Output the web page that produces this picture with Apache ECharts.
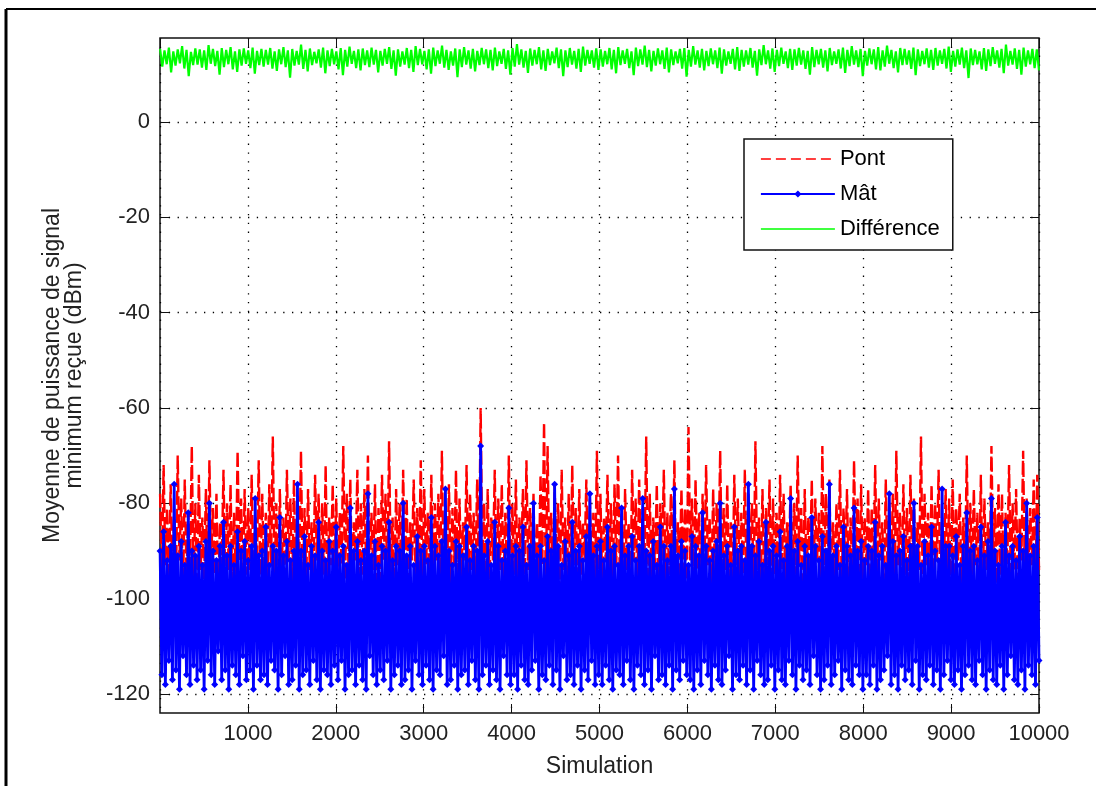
<!DOCTYPE html>
<html>
<head>
    <meta charset="utf-8">
    <script src="https://cdn.jsdelivr.net/npm/echarts@6/dist/echarts.min.js"></script>
</head>
<body style="margin:0;background:#fff">
    <div id="main" style="width:1096px;height:786px"></div>
    <script type="text/javascript">
        // valeurs : enveloppes haute / basse du signal dense (10000 simulations)
        var xTicks = [1000, 2000, 3000, 4000, 5000, 6000, 7000, 8000, 9000, 10000];
        var yTicks = [-120, -100, -80, -60, -40, -20, 0];

        // Pont (rouge)
        var pontHaut = [
            -78,-72,-81,-76,-83,-70,-79,-75,-82,-68,-80,-74,-83,-77,-71,-81,-78,-84,-73,-80,-76,-82,-69,-79,-77,
            -81,-74,-83,-71,-78,-82,-76,-66,-80,-77,-83,-73,-79,-75,-82,-69,-81,-77,-84,-74,-78,-80,-72,-83,-76,
            -79,-82,-68,-78,-75,-84,-73,-80,-77,-70,-82,-76,-81,-74,-78,-67,-83,-77,-80,-73,-79,-84,-75,-81,-71,
            -77,-82,-74,-80,-78,-69,-83,-76,-81,-73,-79,-84,-72,-78,-82,-75,-60,-80,-77,-83,-73,-79,-76,-82,-70,
            -80,-75,-83,-77,-71,-81,-78,-84,-74,-63,-68,-82,-76,-80,-73,-83,-78,-72,-81,-77,-84,-75,-79,-82,-69,
            -78,-83,-74,-80,-76,-70,-82,-77,-84,-73,-79,-75,-81,-66,-78,-83,-76,-80,-73,-82,-78,-71,-84,-77,-81,
            -64,-79,-75,-82,-78,-72,-83,-77,-80,-69,-81,-76,-84,-74,-79,-82,-73,-78,-80,-67,-83,-77,-81,-75,-79,
            -82,-74,-78,-84,-76,-80,-70,-81,-77,-83,-75,-79,-82,-68,-78,-75,-84,-80,-73,-81,-77,-83,-71,-79,-76,
            -83,-77,-81,-72,-79,-84,-75,-80,-78,-69,-82,-76,-81,-74,-79,-84,-66,-78,-82,-76,-80,-73,-83,-77,-79,
            -75,-81,-78,-83,-70,-80,-77,-82,-74,-79,-84,-68,-81,-76,-78,-82,-72,-80,-77,-83,-69,-79,-81,-75,-74
        ];
        var pontBas = [
            -96,-93,-98,-94,-97,-92,-99,-95,-93,-97,-100,-94,-96,-98,-92,-95,-99,-93,-97,-94,-98,-96,-92,-99,-95,
            -94,-97,-92,-99,-95,-98,-93,-96,-100,-94,-97,-92,-98,-95,-93,-99,-96,-94,-97,-92,-98,-95,-100,-93,-96,
            -98,-93,-96,-94,-99,-92,-97,-95,-93,-98,-94,-100,-96,-92,-97,-95,-99,-93,-96,-94,-98,-92,-97,-95,-99,
            -93,-96,-98,-92,-95,-99,-94,-97,-93,-100,-96,-92,-98,-94,-97,-95,-93,-99,-96,-92,-98,-94,-97,-95,-100,
            -95,-98,-93,-97,-94,-92,-99,-96,-93,-98,-95,-97,-92,-100,-94,-96,-98,-93,-97,-95,-92,-99,-94,-96,-98,
            -97,-92,-95,-99,-93,-96,-98,-94,-100,-92,-97,-95,-93,-99,-96,-94,-98,-92,-97,-95,-93,-100,-96,-94,-98,
            -92,-97,-94,-98,-96,-93,-99,-95,-92,-97,-94,-98,-100,-93,-96,-95,-99,-92,-97,-94,-98,-96,-93,-99,-95,
            -99,-94,-97,-92,-98,-95,-93,-100,-96,-94,-97,-92,-99,-95,-93,-98,-96,-94,-97,-92,-100,-95,-93,-98,-96,
            -93,-98,-95,-97,-92,-99,-94,-96,-98,-93,-97,-95,-100,-92,-96,-94,-99,-93,-97,-95,-92,-98,-94,-96,-99,
            -96,-92,-99,-94,-97,-95,-93,-98,-100,-94,-96,-92,-97,-95,-99,-93,-96,-94,-98,-92,-97,-95,-93,-99,-94
        ];

        // Mât (bleu)
        var matHaut = [
            -90,-86,-92,-89,-76,-91,-88,-93,-82,-90,-91,-89,-93,-88,-80,-90,-92,-89,-84,-91,-89,-93,-86,-90,-88,
            -92,-89,-79,-91,-90,-85,-93,-89,-90,-83,-91,-88,-92,-90,-76,-90,-87,-93,-89,-91,-84,-90,-92,-88,-90,
            -85,-91,-89,-93,-81,-90,-88,-92,-90,-78,-91,-88,-93,-89,-90,-84,-92,-89,-90,-80,-91,-89,-93,-87,-90,
            -89,-92,-83,-89,-91,-88,-77,-90,-93,-88,-89,-91,-85,-92,-89,-90,-68,-91,-88,-93,-84,-89,-92,-90,-81,
            -91,-89,-90,-85,-93,-89,-80,-91,-89,-92,-87,-90,-76,-89,-93,-88,-91,-84,-90,-89,-92,-87,-78,-91,-89,
            -88,-92,-85,-90,-89,-93,-81,-91,-89,-87,-92,-89,-79,-90,-91,-88,-93,-85,-89,-92,-89,-77,-91,-88,-90,
            -93,-87,-89,-91,-82,-89,-92,-90,-88,-80,-91,-89,-93,-85,-90,-89,-92,-76,-89,-91,-88,-93,-84,-90,-89,
            -91,-86,-92,-89,-79,-90,-88,-93,-89,-91,-83,-89,-92,-87,-90,-76,-91,-89,-93,-85,-89,-91,-81,-90,-88,
            -92,-89,-90,-84,-91,-89,-93,-78,-88,-91,-90,-87,-92,-89,-80,-89,-93,-88,-91,-85,-90,-92,-77,-89,-89,
            -91,-87,-93,-89,-82,-90,-89,-92,-85,-91,-88,-79,-90,-93,-89,-84,-91,-89,-92,-87,-90,-80,-91,-89,-83
        ];
        var matBas = [
            -116,-118,-113,-117,-115,-119,-112,-116,-118,-114,-117,-115,-119,-113,-116,-118,-111,-117,-115,-119,-114,-116,-118,-112,-117,
            -115,-119,-114,-117,-116,-118,-113,-115,-119,-116,-112,-118,-117,-114,-119,-116,-115,-118,-113,-117,-119,-115,-116,-118,-114,
            -117,-113,-119,-116,-115,-118,-114,-117,-119,-112,-116,-118,-115,-117,-113,-119,-116,-114,-118,-117,-115,-119,-113,-116,-118,
            -114,-117,-119,-115,-116,-112,-118,-117,-114,-119,-116,-115,-118,-113,-117,-119,-116,-114,-118,-115,-117,-119,-112,-116,-118,
            -116,-119,-114,-117,-118,-115,-113,-119,-116,-117,-114,-118,-115,-119,-112,-117,-116,-118,-114,-119,-115,-117,-113,-118,-116,
            -118,-114,-117,-119,-115,-116,-118,-113,-117,-119,-114,-116,-118,-115,-119,-112,-117,-116,-118,-114,-119,-115,-117,-113,-116,
            -117,-119,-115,-118,-113,-116,-119,-114,-117,-118,-115,-112,-119,-116,-117,-114,-118,-115,-119,-113,-116,-118,-117,-114,-119,
            -115,-117,-118,-113,-116,-119,-114,-117,-115,-118,-112,-116,-119,-117,-114,-118,-116,-113,-119,-115,-117,-118,-114,-116,-119,
            -116,-118,-114,-119,-117,-115,-112,-118,-116,-119,-114,-117,-115,-118,-113,-119,-116,-117,-114,-118,-115,-119,-116,-113,-117,
            -118,-115,-119,-116,-114,-117,-118,-113,-116,-119,-115,-117,-118,-114,-119,-116,-112,-117,-118,-115,-119,-114,-116,-118,-113
        ];

        // Différence (vert)
        var diffHaut = [
            15.3,15.0,15.6,14.8,15.2,15.9,15.1,14.7,15.4,15.2,15.0,16.1,15.3,14.9,15.5,15.1,15.7,14.8,15.2,15.4,15.0,15.6,14.9,15.3,15.1,
            15.5,14.8,15.2,15.7,15.0,15.3,14.9,16.2,15.1,15.4,14.7,15.2,15.6,15.0,15.3,14.8,15.5,15.1,15.8,14.9,15.2,15.4,15.0,15.6,15.1,
            14.9,15.3,15.7,15.0,15.2,14.8,15.5,15.1,15.9,15.3,14.9,15.2,15.6,15.0,16.0,15.1,14.8,15.4,15.2,15.7,15.0,15.3,14.9,15.5,15.2,
            15.1,15.6,14.8,15.3,15.0,15.5,16.3,15.2,14.9,15.4,15.1,15.7,15.0,15.3,14.8,15.6,15.2,15.0,15.5,14.9,15.3,15.8,15.1,15.0,15.4,
            15.2,14.9,15.5,15.1,15.7,15.0,15.3,14.8,15.6,15.2,16.0,15.1,14.9,15.4,15.0,15.6,15.2,14.8,15.3,15.5,15.1,15.9,15.0,15.3,14.9,
            15.4,15.0,15.6,15.2,14.8,15.3,15.7,15.1,15.0,15.5,14.9,15.2,16.1,15.0,15.4,15.1,15.6,14.8,15.3,15.2,15.5,15.0,14.9,15.7,15.1,
            15.3,15.0,15.5,14.8,15.2,15.6,15.1,15.9,15.0,15.3,14.9,15.4,15.2,15.7,15.0,16.0,15.1,14.8,15.5,15.3,15.0,15.6,15.2,14.9,15.4,
            15.1,15.5,15.0,15.3,15.8,14.9,15.2,15.6,15.0,15.4,15.1,14.8,15.5,15.2,15.7,15.0,15.3,16.2,14.9,15.4,15.1,15.6,15.0,15.3,15.2
        ];
        var diffBas = [
            11.6,12.1,10.4,11.8,12.3,11.2,9.6,11.9,12.0,11.4,10.9,12.2,11.7,9.9,11.5,12.1,11.0,10.5,11.8,12.2,11.3,10.1,11.9,11.6,12.0,
            11.2,10.7,12.1,11.5,9.3,11.8,12.0,11.1,10.6,11.9,12.3,11.4,10.2,11.7,12.1,11.0,9.8,11.6,12.2,11.3,10.8,11.9,11.5,12.0,10.4,
            11.8,12.2,11.1,9.7,11.6,12.0,11.3,10.5,11.9,12.1,11.0,10.1,11.7,12.2,11.4,10.9,11.8,9.4,11.5,12.0,11.2,10.6,11.9,12.1,11.3,
            10.8,11.7,12.2,11.1,9.9,11.6,12.0,11.4,10.3,11.8,12.1,11.0,10.7,11.9,12.3,11.3,9.6,11.5,12.0,11.2,10.5,11.8,12.2,11.4,10.9,
            11.6,12.1,11.0,10.2,11.9,12.2,11.3,9.8,11.7,12.0,11.5,10.6,11.8,12.1,11.1,10.4,11.9,12.3,11.2,9.5,11.6,12.0,11.4,10.8,11.7,
            12.1,11.3,10.1,11.8,12.2,11.0,10.7,11.6,12.0,11.4,9.7,11.9,12.1,11.2,10.5,11.7,12.2,11.3,10.9,11.8,12.0,11.1,9.9,11.5,12.1,
            11.4,10.6,11.9,12.2,11.2,10.3,11.7,12.0,11.5,9.6,11.8,12.1,11.0,10.8,11.6,12.2,11.3,10.4,11.9,12.0,11.1,9.8,11.7,12.1,11.4,
            10.9,11.8,12.2,11.2,10.5,11.6,12.0,11.3,9.2,11.9,12.1,11.0,10.7,11.7,12.2,11.4,10.2,11.8,12.0,11.1,9.9,11.6,12.1,11.3,10.8
        ];

        // alterne haut / bas et place chaque echantillon sur l'axe des simulations
        function signal(haut, bas) {
            var pts = [];
            for (var i = 0; i < haut.length; i++) {
                pts.push(haut[i]);
                pts.push(bas[i]);
            }
            var step = 9999 / (pts.length - 1);
            return pts.map(function (v, i) { return [1 + i * step, v]; });
        }

        var font = "'Liberation Sans', Arial, sans-serif";
        var myChart = echarts.init(document.getElementById('main'));

        var tickStyle = { color: '#111', width: 1 };
        var gridStyle = { color: '#000', type: [1.3, 7.5], width: 1.3 };

        var option = {
            animation: false,
            backgroundColor: '#fff',
            textStyle: { fontFamily: font },
            graphic: [
                { type: 'line', shape: { x1: 6, y1: 9, x2: 1096, y2: 9 }, style: { stroke: '#000', lineWidth: 2 } },
                { type: 'line', shape: { x1: 6, y1: 9, x2: 6, y2: 786 }, style: { stroke: '#000', lineWidth: 3 } }
            ],
            grid: {
                left: 160, top: 38, right: 57, bottom: 73,
                show: true, borderColor: '#111', borderWidth: 1.5, backgroundColor: '#fff'
            },
            legend: {
                orient: 'vertical',
                left: 744, top: 139,
                padding: [8, 13, 9, 16],
                itemWidth: 74, itemHeight: 9, itemGap: 11,
                backgroundColor: '#fff',
                borderColor: '#111', borderWidth: 1.5, borderRadius: 0,
                textStyle: { fontFamily: font, fontSize: 22, color: '#000', lineHeight: 24 },
                data: [
                    { name: 'Pont', itemStyle: { opacity: 0 }, lineStyle: { width: 1.5, type: [10, 5] } },
                    { name: 'Mât', lineStyle: { width: 1.8 } },
                    { name: 'Différence', itemStyle: { opacity: 0 }, lineStyle: { width: 1.5 } }
                ]
            },
            xAxis: [{
                type: 'value', min: 0, max: 10000, interval: 1000,
                name: 'Simulation', nameLocation: 'middle', nameGap: 42,
                nameTextStyle: { fontFamily: font, fontSize: 23, color: '#222' },
                axisLine: { show: false, onZero: false },
                axisTick: { inside: true, length: 9, lineStyle: tickStyle },
                axisLabel: {
                    showMinLabel: false, margin: 10, fontSize: 22, color: '#222', fontFamily: font,
                    formatter: function (v) { return String(v); }
                },
                splitLine: { show: true, lineStyle: gridStyle }
            }, {
                type: 'value', position: 'top', min: 0, max: 10000, interval: 1000,
                axisLine: { show: false, onZero: false },
                axisTick: { inside: true, length: 9, lineStyle: tickStyle },
                axisLabel: { show: false },
                splitLine: { show: false }
            }],
            yAxis: [{
                type: 'value', min: -124, max: 17.6,
                name: 'Moyenne de puissance de signal\nminimum reçue (dBm)',
                nameLocation: 'middle', nameGap: 74,
                nameTextStyle: { fontFamily: font, fontSize: 23, color: '#222', lineHeight: 22 },
                axisLine: { show: false, onZero: false },
                axisTick: { inside: true, length: 9, customValues: yTicks, lineStyle: tickStyle },
                axisLabel: { customValues: yTicks, margin: 10, fontSize: 22, color: '#222', fontFamily: font },
                splitLine: { show: true, lineStyle: gridStyle }
            }, {
                type: 'value', position: 'right', min: -124, max: 17.6,
                axisLine: { show: false, onZero: false },
                axisTick: { inside: true, length: 9, customValues: yTicks, lineStyle: tickStyle },
                axisLabel: { show: false },
                splitLine: { show: false }
            }],
            series: [{
                name: 'Pont',
                type: 'line',
                data: signal(pontHaut, pontBas),
                symbol: 'none',
                color: '#ff0000',
                lineStyle: { color: '#ff0000', width: 2.4, type: [14, 4] }
            }, {
                name: 'Mât',
                type: 'line',
                data: signal(matHaut, matBas),
                symbol: 'diamond',
                symbolSize: 7,
                color: '#0000ff',
                itemStyle: { color: '#0000ff' },
                lineStyle: { color: '#0000ff', width: 2.8 }
            }, {
                name: 'Différence',
                type: 'line',
                data: signal(diffHaut, diffBas),
                symbol: 'none',
                color: '#00ff00',
                lineStyle: { color: '#00ff00', width: 2.2 }
            }]
        };

        myChart.setOption(option);
    </script>
</body>
</html>
